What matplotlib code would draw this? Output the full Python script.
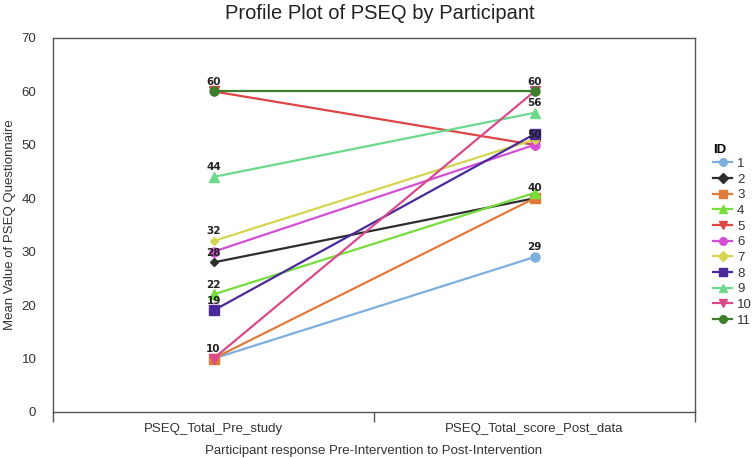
import matplotlib
matplotlib.use("Agg")
import matplotlib.pyplot as plt

plt.rcParams['font.family'] = ['Liberation Sans', 'DejaVu Sans']

categories = ["PSEQ_Total_Pre_study", "PSEQ_Total_score_Post_data"]
ids = ["1", "2", "3", "4", "5", "6", "7", "8", "9", "10", "11"]
pre_values = [10, 28, 10, 22, 60, 30, 32, 19, 44, 10, 60]
post_values = [29, 40, 40, 41, 50, 50, 51, 52, 56, 60, 60]
pre_labels = [60, 44, 32, 28, 22, 19, 10]
post_labels = [60, 56, 50, 40, 29]

colors = ["#7EAEDD", "#2E2E2E", "#E07B39", "#77DD3C", "#DE4545", "#D54FD5",
          "#D5D54F", "#4A2A9A", "#6CD98C", "#D84A8C", "#3E7D2E"]
markers = ["o", "D", "s", "^", "v", "o", "D", "s", "^", "v", "o"]
msizes = [6.5, 4.5, 7, 7, 7, 6.5, 4.5, 7, 7, 7, 6.5]

fig = plt.figure(figsize=(7.53, 4.58), dpi=100)
ax = fig.add_axes([53/753, 1-412/458, (695-53)/753, (412-38)/458])

xs = [0, 1]
for i, idv in enumerate(ids):
    ax.plot(xs, [pre_values[i], post_values[i]], color=colors[i], marker=markers[i],
            markersize=msizes[i], linewidth=1.6, label=idv, zorder=2+i)

lab_font = dict(fontsize=7.5, fontweight="bold", color="#222222", family="DejaVu Sans")
for v in pre_labels:
    ax.annotate(str(v), (0, v), xytext=(0, 3.5), textcoords="offset points",
                ha="center", va="bottom", zorder=30, **lab_font)
for v in post_labels:
    ax.annotate(str(v), (1, v), xytext=(0, 3.5), textcoords="offset points",
                ha="center", va="bottom", zorder=30, **lab_font)

ax.set_xlim(-0.5, 1.5)
ax.set_ylim(0, 70)
ax.set_yticks(range(0, 71, 10))
ax.tick_params(axis="y", length=0, pad=12, labelsize=9.5, labelcolor="#333333")
ax.set_xticks([-0.5, 0.5, 1.5])
ax.set_xticklabels([])
ax.set_xticks(xs, minor=True)
ax.set_xticklabels(categories, minor=True)
ax.tick_params(axis="x", which="major", length=7, width=1, color="#555555", direction="out")
ax.tick_params(axis="x", which="minor", length=0, pad=8, labelsize=9.5, labelcolor="#333333")

for s in ax.spines.values():
    s.set_color("#555555")
    s.set_linewidth(1)

ax.set_ylabel("Mean Value of PSEQ Questionnaire", fontsize=9.5, color="#333333")
ax.yaxis.set_label_coords(-37/642, 0.5)
ax.set_xlabel("Participant response Pre-Intervention to Post-Intervention", fontsize=9.5,
              color="#333333", labelpad=7)
fig.suptitle("Profile Plot of PSEQ by Participant", x=0.505, y=1-4/458, fontsize=14.5,
             color="#222222", va="top")

leg = fig.legend(loc="upper left", bbox_to_anchor=(708/753, 1-139/458), frameon=False,
                 title="ID", fontsize=9.5, handlelength=1.4, handletextpad=0.4,
                 labelspacing=0.26, borderaxespad=0)
leg.get_title().set_fontweight("bold")
leg.get_title().set_fontsize(9.5)
leg._legend_box.align = "left"
leg._legend_box.sep = 1
for t in leg.get_texts():
    t.set_color("#333333")
for h in leg.legend_handles:
    h.set_markersize(5.5)

fig.savefig("out.png", dpi=100)
